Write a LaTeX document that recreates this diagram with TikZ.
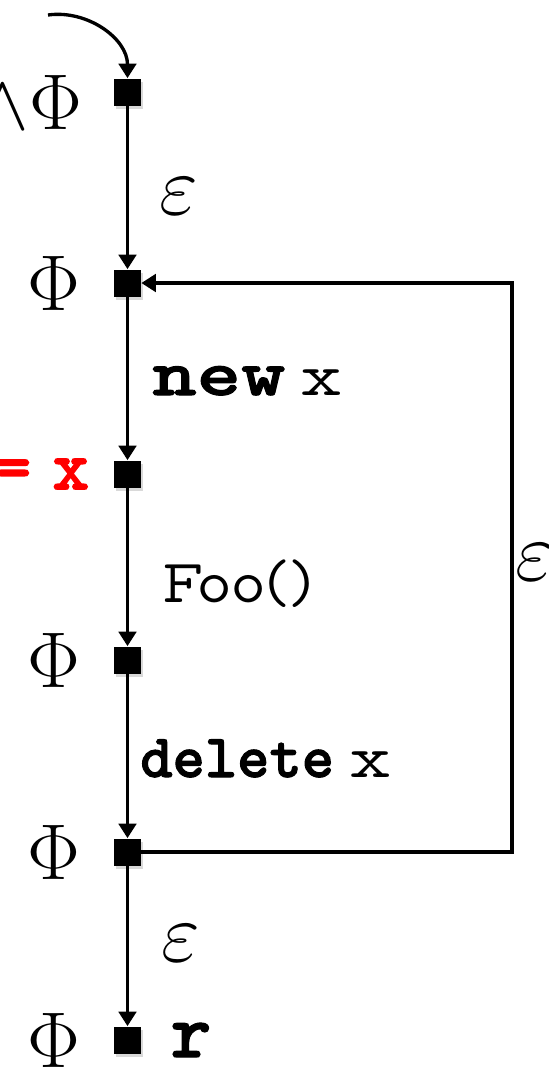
\RequirePackage{fix-cm}
\documentclass[tikz,border=0pt]{standalone}
\usepackage{fontspec}
\usetikzlibrary{arrows.meta,positioning,shadows}
\newfontfamily\heavyfont[FakeBold=1.6]{lmmonolt10-bold.otf}
\newfontfamily\widefont[FakeBold=1.6,FakeStretch=1.3]{lmmonolt10-bold.otf}
\newfontfamily\varfont[FakeStretch=1.35]{lmmono10-regular.otf}
\newfontfamily\propfont{lmmonoprop10-regular.otf}
\begin{document}
\begin{tikzpicture}[
  v/.style={rectangle,fill=black,minimum size=5.4mm,inner sep=0pt,drop shadow={opacity=0.3,shadow xshift=0.4mm,shadow yshift=-0.6mm}},
  e/.style={draw=black,line width=1.9pt,-{Triangle[width=3.5mm,length=2.9mm]}},
  phi/.style={font=\fontsize{45}{45}\selectfont,inner sep=0pt},
  eps/.style={font=\fontsize{48}{48}\selectfont,inner sep=0pt},
  code/.style={font=\varfont\fontsize{34}{34}\selectfont,inner sep=0pt,anchor=base west}]
  \useasboundingbox (0,0) rectangle (10.96,-21.36);
  \foreach \i/\y in {1/-1.84,2/-5.66,3/-9.48,4/-13.2,5/-17.04,6/-20.8}
    \node[v] (n\i) at (2.55,\y) {};
  \foreach \i/\j in {1/2,2/3,3/4,4/5,5/6} \draw[e] (n\i) -- (n\j);
  % entry and back edge
  \coordinate (entry) at (0.96,-0.30);
  \coordinate (back) at (10.24,-11.2);
  \draw[e] (entry) to[out=8,in=90] (n1.north);
  \draw[e] (n5.east) -| (back) |- (n2.east);
  % state labels
  \node[phi,anchor=east] (p1) at (1.65,-2.04) {$\wedge\Phi$};
  \node[phi,left=0.66cm of n2] (p2) {$\Phi$};
  \node[phi,left=0.66cm of n4] (p4) {$\Phi$};
  \node[phi,left=0.66cm of n5] (p5) {$\Phi$};
  \node[phi,left=0.66cm of n6] (p6) {$\Phi$};
  \node[code,anchor=east,text=red,font=\heavyfont\fontsize{40}{40}\selectfont,left=0.48cm of n3] (p3) {=\hspace{0.3em}x};
  \node[code,anchor=west,font=\heavyfont\fontsize{44}{44}\selectfont,right=0.58cm of n6] (ret) {r};
  % edge labels
  \node[eps] (eps1) at (3.58,-3.92) {$\varepsilon$};
  \node[code] (newx) at (3.04,-7.9) {{\widefont\fontsize{37}{37}\selectfont new}\hspace{0.25em}x};
  \node[code,font=\propfont\fontsize{35}{35}\selectfont] (call) at (3.24,-12.04) {Foo()};
  \node[code] (delx) at (2.8,-15.54) {{\heavyfont\fontsize{35}{35}\selectfont delete}\hspace{0.25em}x};
  \node[eps] (eps2) at (3.62,-18.86) {$\varepsilon$};
  \node[eps,anchor=west] (eps3) at (10.3,-11.24) {$\varepsilon$};
\end{tikzpicture}
\end{document}
